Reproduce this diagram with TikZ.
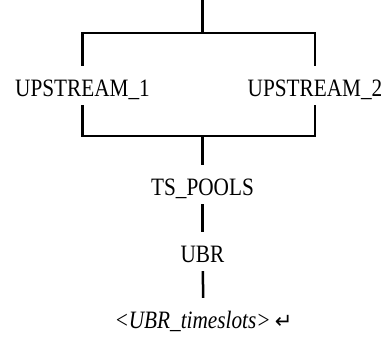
\documentclass[tikz,border=0pt]{standalone}
\usepackage{fontspec}
\setmainfont{Liberation Serif}[FakeStretch=0.85]
\newfontfamily\arrowfont{DejaVu Sans}
\tikzset{
  rule/.style={line width=2.5pt},
  elem/.style={anchor=base,inner xsep=0pt,inner ysep=9pt,
    text height=21pt,text depth=0pt,font=\fontsize{25}{29}\selectfont}
}
\begin{document}
\begin{tikzpicture}[x=1pt,y=1pt]
            \useasboundingbox (0,0) rectangle (388,-337);
            % branch points
            \coordinate (top) at (202.5,0);
            \coordinate (split) at (202.5,-33);
            \coordinate (join) at (202.5,-136);

            % elements
            \node[elem] (up1) at (82.5,-96) {UPSTREAM\_1};
            \node[elem] (up2) at (315,-96) {UPSTREAM\_2};
            \node[elem] (pools) at (202.5,-195) {TS\_POOLS};
            \node[elem] (ubr) at (202.5,-262) {UBR};
            \node[elem] (slots) at (203.5,-328) {\textit{<UBR\_timeslots>}\,{\arrowfont\fontsize{21}{24}\selectfont ↵}};

            % parallel part
            \draw[rule] (top) -- (split);
            \draw[rule] (up1) |- (split) -| (up2);
            \draw[rule] (up1) |- (join) -| (up2);

            % sequence
            \draw[rule] (join) -- (pools);
            \draw[rule] (pools) -- (ubr);
            \draw[rule] (ubr) -- (slots);
        \end{tikzpicture}
\end{document}
